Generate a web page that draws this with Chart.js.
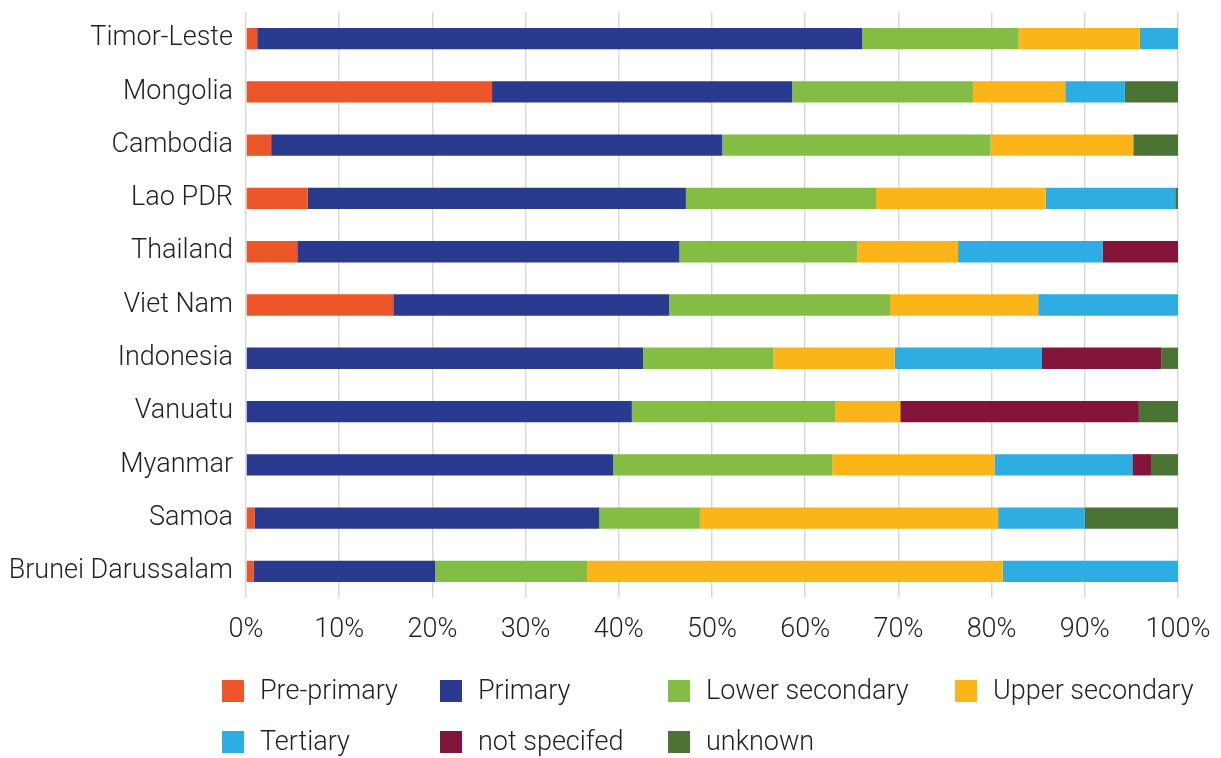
<!DOCTYPE html>
<html>
<head>
<meta charset="utf-8">
<script src="https://cdn.jsdelivr.net/npm/chart.js@4/dist/chart.umd.min.js"></script>
<style>
  html, body { margin: 0; padding: 0; background: #fff; }
</style>
</head>
<body>
<canvas id="main" width="1221" height="758"></canvas>
<script>
// categories, top to bottom
const countries = ['Timor-Leste', 'Mongolia', 'Cambodia', 'Lao PDR', 'Thailand', 'Viet Nam',
    'Indonesia', 'Vanuatu', 'Myanmar', 'Samoa', 'Brunei Darussalam']

// shares in %, same order as countries
const prePrimary     = [1.2, 26.4,  2.7,  6.6,  5.5, 15.8,  0.0,  0.0,  0.0,  0.9,  0.8]
const primary        = [64.9, 32.2, 48.4, 40.6, 41.0, 29.6, 42.6, 41.4, 39.4, 37.0, 19.5]
const lowerSecondary = [16.8, 19.4, 28.8, 20.4, 19.1, 23.7, 14.0, 21.8, 23.5, 10.8, 16.3]
const upperSecondary = [13.0,  9.9, 15.3, 18.2, 10.8, 15.9, 13.0,  7.0, 17.4, 32.0, 44.6]
const tertiary       = [4.1,  6.4,  0.0, 13.9, 15.5, 15.0, 15.8,  0.0, 14.8,  9.3, 18.8]
const notSpecified   = [0.0,  0.0,  0.0,  0.0,  8.1,  0.0, 12.8, 25.6,  2.0,  0.0,  0.0]
const unknown        = [0.0,  5.7,  4.8,  0.3,  0.0,  0.0,  1.8,  4.2,  2.9, 10.0,  0.0]

const xTicks = [0, 10, 20, 30, 40, 50, 60, 70, 80, 90, 100]

const seriesNames = ['Pre-primary', 'Primary', 'Lower secondary', 'Upper secondary',
    'Tertiary', 'not specifed', 'unknown']
const seriesData = [prePrimary, primary, lowerSecondary, upperSecondary, tertiary, notSpecified, unknown]
const seriesColors = ['#ec5628', '#2a3b8f', '#84bd43', '#fbb518', '#2eade3', '#82163a', '#4a7334']

const FONT = 'Roboto'
const TEXT = '#231f20'

// excel-like legend: fixed grid, 4 per row
const gridLegend = {
    id: 'gridLegend',
    afterDraw(chart) {
        const ctx = chart.ctx
        const cols = [222, 440, 668, 955]
        const rows = [691, 742]
        ctx.save()
        ctx.font = `300 27px ${FONT}`
        ctx.textBaseline = 'middle'
        ctx.textAlign = 'left'
        chart.data.datasets.forEach((ds, i) => {
            const x = cols[i % 4]
            const y = rows[Math.floor(i / 4)]
            ctx.fillStyle = ds.backgroundColor
            ctx.fillRect(x, y - 11, 22, 22)
            ctx.fillStyle = TEXT
            ctx.fillText(ds.label, x + 38, y + 1)
        })
        ctx.restore()
    }
}

const ctx = document.getElementById('main').getContext('2d')

new Chart(ctx, {
    type: 'bar',
    data: {
        labels: countries,
        datasets: seriesNames.map((name, i) => ({
            label: name,
            data: seriesData[i],
            backgroundColor: seriesColors[i],
            borderWidth: 0,
            barPercentage: 0.8,
            categoryPercentage: 0.5
        }))
    },
    options: {
        indexAxis: 'y',
        responsive: false,
        animation: false,
        layout: { padding: { top: 12, right: 43, left: 0, bottom: 0 } },
        plugins: {
            legend: { display: false },
            tooltip: { enabled: false }
        },
        scales: {
            x: {
                stacked: true,
                min: 0,
                max: 100,
                afterBuildTicks: axis => { axis.ticks = xTicks.map(v => ({ value: v })) },
                afterFit: axis => {
                    axis.height = 160
                    axis.paddingLeft = 0
                    axis.paddingRight = 0
                },
                grid: { color: '#d9d9d9', lineWidth: 1.5, drawTicks: false },
                border: { display: false },
                ticks: {
                    padding: 16,
                    color: TEXT,
                    font: { family: FONT, size: 27, weight: 300 },
                    callback: v => v + '%'
                }
            },
            y: {
                stacked: true,
                afterFit: axis => {
                    axis.width = 246
                    axis.paddingTop = 0
                    axis.paddingBottom = 0
                },
                grid: { display: false, drawTicks: false },
                border: { display: false },
                ticks: {
                    padding: 13,
                    color: TEXT,
                    font: { family: FONT, size: 27, weight: 300 }
                }
            }
        }
    },
    plugins: [gridLegend]
})
</script>
</body>
</html>
